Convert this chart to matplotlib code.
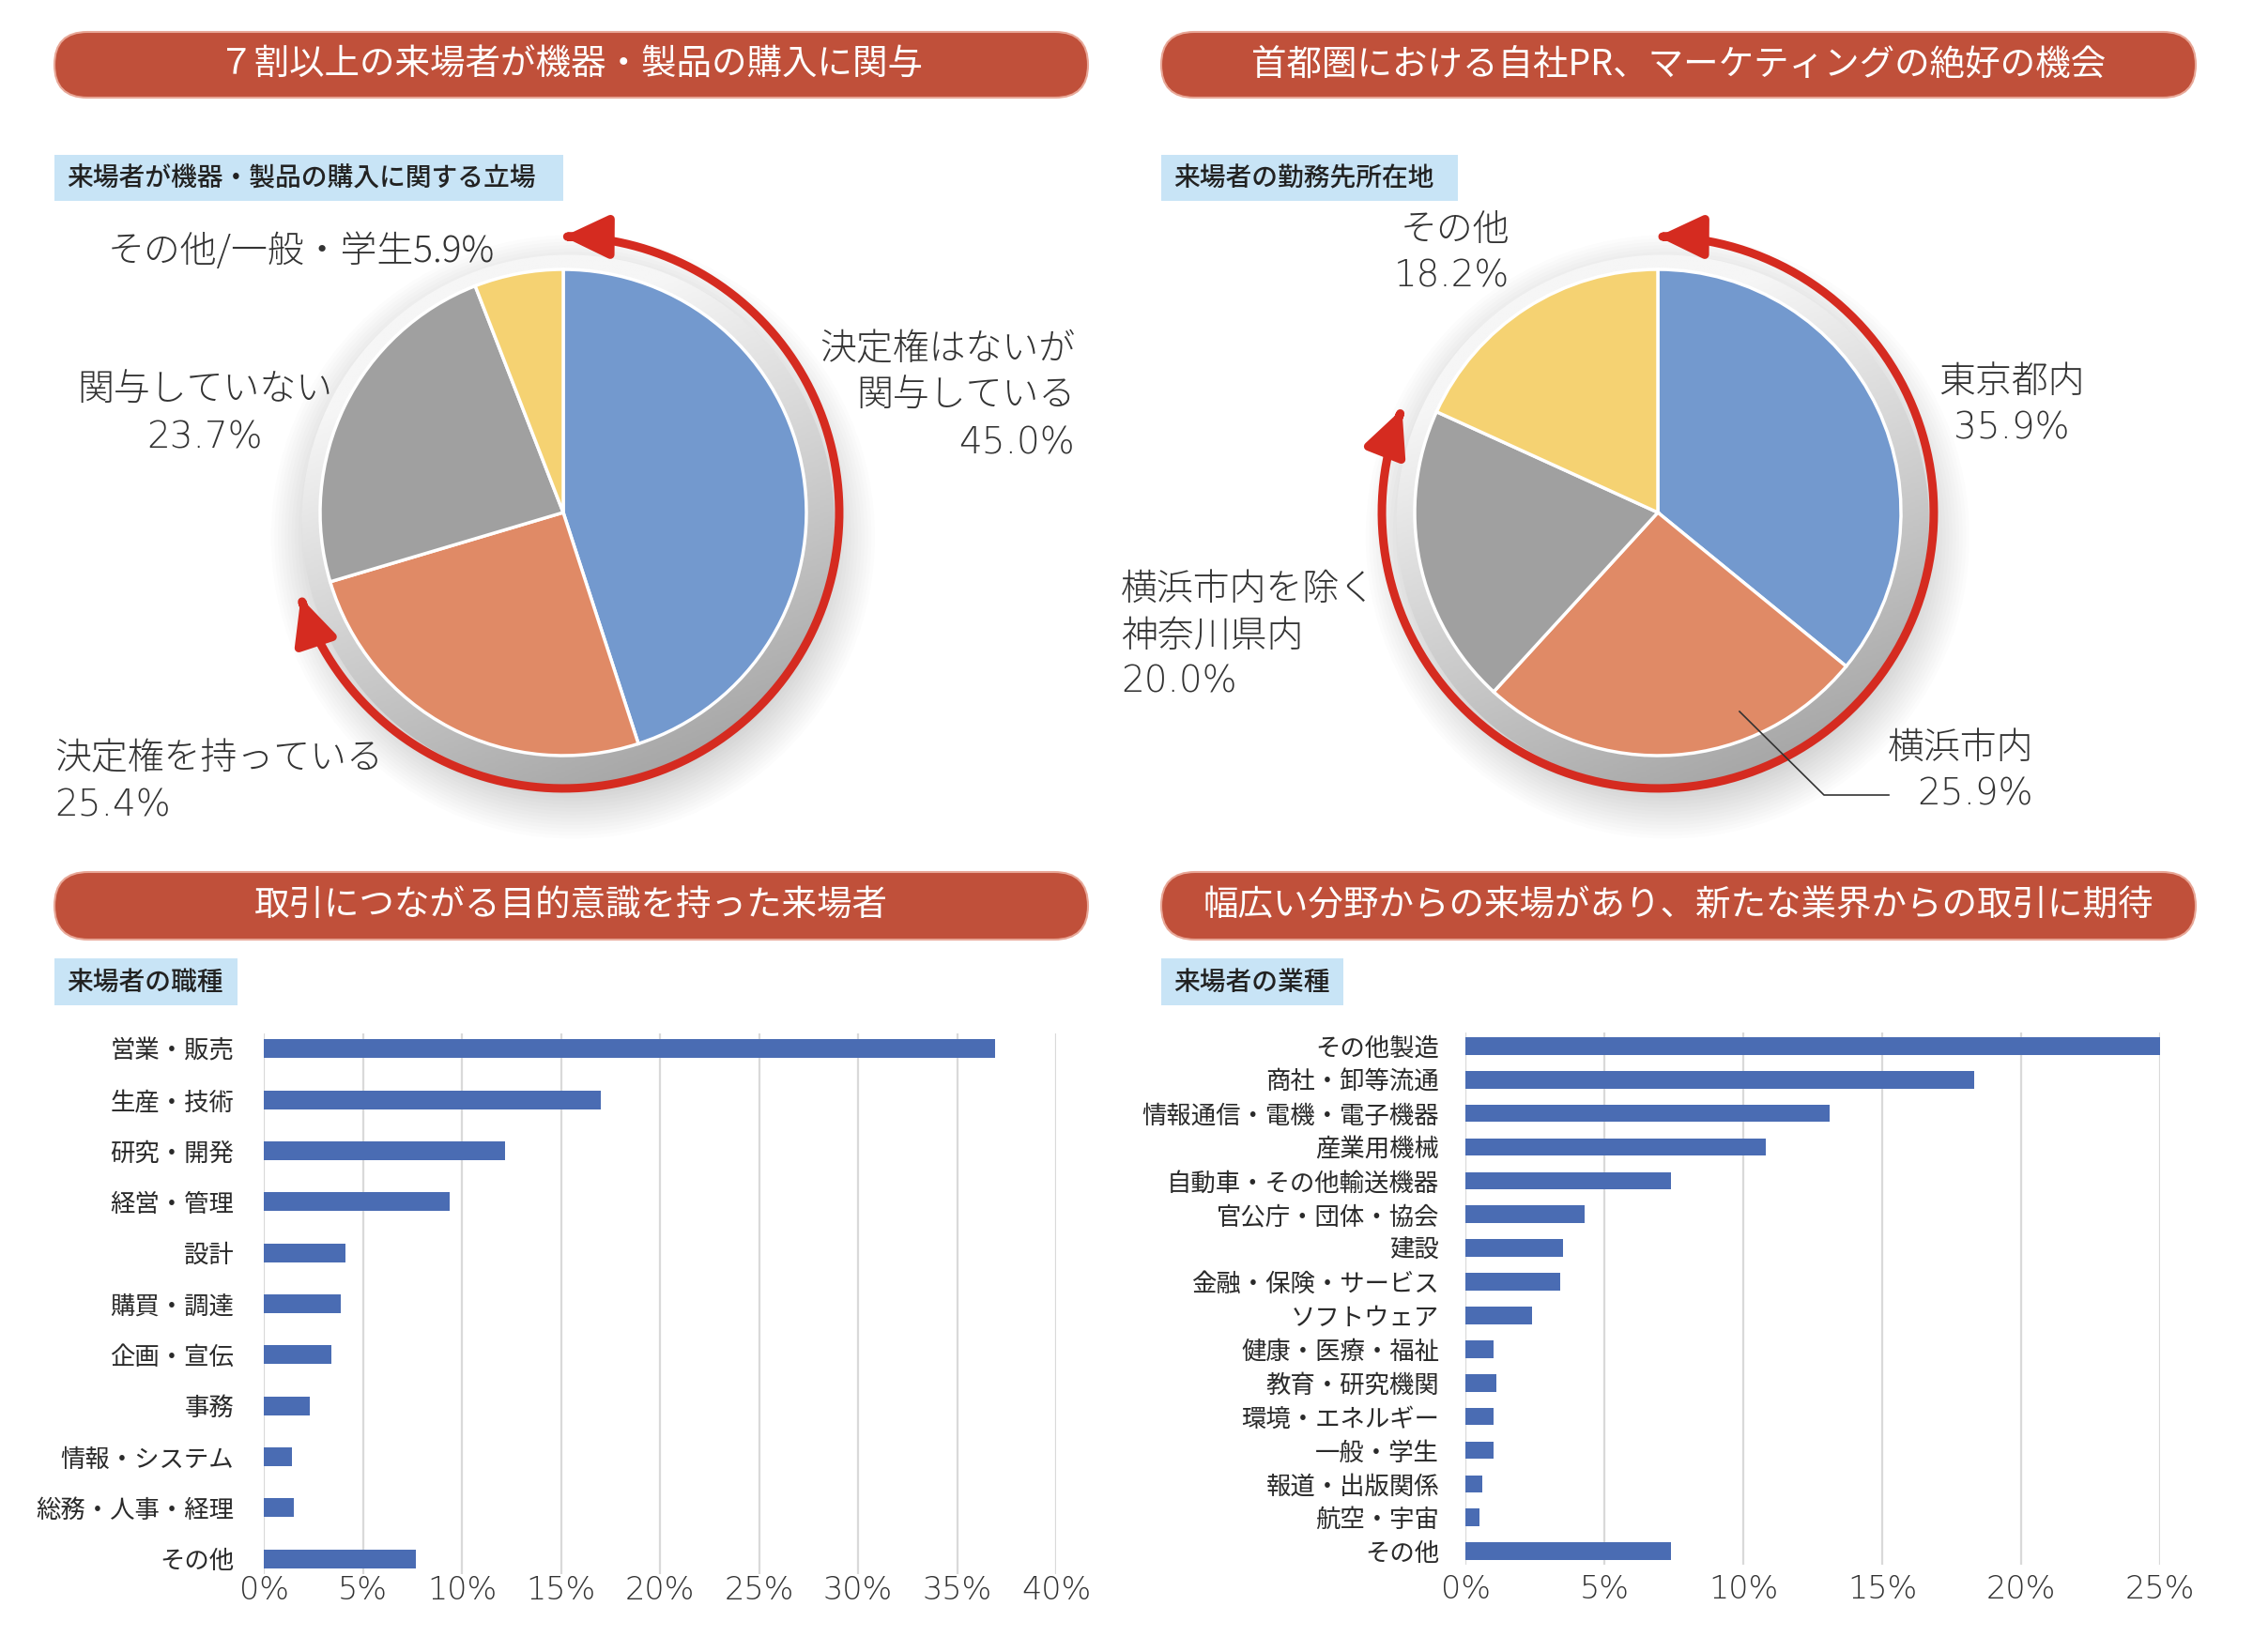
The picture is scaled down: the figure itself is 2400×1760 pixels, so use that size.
import numpy as np
import matplotlib
matplotlib.use("Agg")
import matplotlib.pyplot as plt
from matplotlib.patches import FancyBboxPatch, Rectangle, Circle, FancyArrowPatch
from matplotlib.path import Path
from matplotlib.colors import LinearSegmentedColormap

plt.rcParams['font.family'] = ['Noto Sans CJK JP', 'DejaVu Sans']

# ---------------- data ----------------
banner_titles = ['７割以上の来場者が機器・製品の購入に関与',
                 '首都圏における自社PR、マーケティングの絶好の機会',
                 '取引につながる目的意識を持った来場者',
                 '幅広い分野からの来場があり、新たな業界からの取引に期待']
sub_titles = ['来場者が機器・製品の購入に関する立場', '来場者の勤務先所在地',
              '来場者の職種', '来場者の業種']

role_labels = ['決定権はないが\n関与している', '決定権を持っている', '関与していない', 'その他/一般・学生']
role_values = [45.0, 25.4, 23.7, 5.9]

location_labels = ['東京都内', '横浜市内', '横浜市内を除く\n神奈川県内', 'その他']
location_values = [35.9, 25.9, 20.0, 18.2]

job_labels = ['営業・販売', '生産・技術', '研究・開発', '経営・管理', '設計', '購買・調達',
              '企画・宣伝', '事務', '情報・システム', '総務・人事・経理', 'その他']
job_values = [36.9, 17.0, 12.2, 9.4, 4.1, 3.9, 3.4, 2.3, 1.4, 1.5, 7.7]
job_ticks = [0, 5, 10, 15, 20, 25, 30, 35, 40]

industry_labels = ['その他製造', '商社・卸等流通', '情報通信・電機・電子機器', '産業用機械',
                   '自動車・その他輸送機器', '官公庁・団体・協会', '建設', '金融・保険・サービス',
                   'ソフトウェア', '健康・医療・福祉', '教育・研究機関', '環境・エネルギー',
                   '一般・学生', '報道・出版関係', '航空・宇宙', 'その他']
industry_values = [25.0, 18.3, 13.1, 10.8, 7.4, 4.3, 3.5, 3.4, 2.4, 1.0, 1.1, 1.0, 1.0, 0.6, 0.5, 7.4]
industry_ticks = [0, 5, 10, 15, 20, 25]

# ---------------- styles ----------------
W, H = 2400, 1760
pie_colors = ['#7399CE', '#E08A66', '#A0A0A0', '#F5D272']
bar_color = '#4A6CB3'
banner_color = '#C0503A'
sub_color = '#C8E4F6'
red = '#D52B20'
txt = '#333333'

fig = plt.figure(figsize=(W / 100, H / 100), dpi=100)
fig.patch.set_facecolor('white')

overlay = fig.add_axes([0, 0, 1, 1])
overlay.set_xlim(0, W)
overlay.set_ylim(H, 0)
overlay.axis('off')
overlay.set_zorder(10)
overlay.patch.set_alpha(0)

# banners
banner_boxes = [(58, 34, 1101, 70), (1237, 34, 1102, 70), (58, 929, 1101, 72), (1237, 929, 1102, 72)]
for (x0, y0, w, h), t in zip(banner_boxes, banner_titles):
    overlay.add_patch(FancyBboxPatch((x0, y0), w, h, boxstyle=f"round,pad=0,rounding_size={h/2}",
                                     fc=banner_color, ec='#E8A797', lw=1.5))
    overlay.text(x0 + w / 2, y0 + h / 2, t, ha='center', va='center', color='white', fontsize=27)

# subtitle boxes
sub_boxes = [(58, 165, 542, 49), (1237, 165, 316, 49), (58, 1021, 195, 50), (1237, 1021, 194, 50)]
for (x0, y0, w, h), t in zip(sub_boxes, sub_titles):
    overlay.add_patch(Rectangle((x0, y0), w, h, fc=sub_color, ec='none'))
    overlay.text(x0 + 13, y0 + h / 2, t, ha='left', va='center', color='#222222', fontsize=20,
                 fontweight='medium')


def pie_axes(cx, cy, r, k=1.4):
    ax = fig.add_axes([(cx - k * r) / W, (H - cy - k * r) / H, 2 * k * r / W, 2 * k * r / H])
    return ax, k


def draw_pie(cx, cy, r, values, end_angle):
    ax, k = pie_axes(cx, cy, r)
    # soft drop shadow
    for i in range(14):
        ax.add_patch(Circle((0.04, -0.10), 1.06 + 0.014 * i, fc='k', ec='none', alpha=0.013, zorder=0.5))
    # gray plate with gradient
    yy, xx = np.mgrid[1.2:-1.2:300j, -1.2:1.2:300j]
    g = np.clip(0.40 - 0.50 * yy + 0.2 * xx, 0, 1)
    cmap = LinearSegmentedColormap.from_list('plate', ['#F6F6F6', '#A8A8A8'])
    im = ax.imshow(g, extent=(-1.2, 1.2, -1.2, 1.2), cmap=cmap, vmin=0, vmax=1, zorder=1)
    plate = Circle((0.02, -0.035), 1.095, transform=ax.transData)
    im.set_clip_path(plate)
    ax.pie(values, colors=pie_colors, startangle=90, counterclock=False, radius=1.0,
           wedgeprops=dict(edgecolor='white', linewidth=2.5, zorder=2))
    R = 1.135
    th = np.radians(np.linspace(90, end_angle, 300))
    verts = np.column_stack([R * np.cos(th), R * np.sin(th)])
    arr = FancyArrowPatch(path=Path(verts), arrowstyle='<|-|>,head_length=1.3,head_width=0.62',
                          mutation_scale=22, color=red, lw=6.5, zorder=5)
    ax.add_patch(arr)
    ax.set_xlim(-k, k)
    ax.set_ylim(-k, k)
    ax.set_aspect('equal')
    ax.axis('off')
    return ax


draw_pie(600, 546, 259, role_values, -162)
draw_pie(1766, 546, 259, location_values, -202)

# pie labels
cjk_fs = 28
num_font = ['DejaVu Sans']
cjk = ['Noto Sans CJK JP', 'DejaVu Sans']


def put_label(x, ys, lines, ha, fams):
    for y, line, fam in zip(ys, lines, fams):
        overlay.text(x, y, line, ha=ha, va='center', color=txt, fontsize=cjk_fs,
                     family=fam, fontweight='light')


# role pie
overlay.text(321, 268, f"{role_labels[3]}{role_values[3]:.1f}%", ha='center', va='center',
             color=txt, fontsize=cjk_fs, fontweight='light')
put_label(1145, [372, 422, 473], role_labels[0].split('\n') + [f"{role_values[0]:.1f}%"], 'right',
          [cjk, cjk, num_font])
put_label(218, [416, 467], [role_labels[2], f"{role_values[2]:.1f}%"], 'center', [cjk, num_font])
put_label(58, [808, 859], [role_labels[1], f"{role_values[1]:.1f}%"], 'left', [cjk, num_font])

# location pie
put_label(1608, [245, 295], [location_labels[3], f"{location_values[3]:.1f}%"], 'right', [cjk, num_font])
put_label(2143, [407, 456], [location_labels[0], f"{location_values[0]:.1f}%"], 'center', [cjk, num_font])
put_label(1194, [628, 678, 727], location_labels[2].split('\n') + [f"{location_values[2]:.1f}%"], 'left',
          [cjk, cjk, num_font])
put_label(2166, [797, 847], [location_labels[1], f"{location_values[1]:.1f}%"], 'right', [cjk, num_font])
overlay.plot([1853, 1943, 2012], [758, 847, 847], color='#333333', lw=1.2)


def bar_chart(left_px, right_px, top_px, bottom_px, labels, values, ticks, height, pad_lab, pad_tick, m):
    ax = fig.add_axes([left_px / W, (H - bottom_px) / H, (right_px - left_px) / W, (bottom_px - top_px) / H])
    n = len(labels)
    y = np.arange(n)
    ax.barh(y, values, height=height, color=bar_color, zorder=3)
    ax.set_ylim(n - 1 + m, -m)
    ax.set_xlim(ticks[0], ticks[-1])
    ax.set_xticks(ticks, [f"{t}%" for t in ticks])
    ax.set_yticks(y, labels)
    ax.tick_params(axis='both', length=0, colors=txt)
    ax.tick_params(axis='y', pad=pad_lab, labelsize=19, labelcolor='#2A2A2A')
    ax.tick_params(axis='x', pad=pad_tick, labelsize=24)
    for lab in ax.get_xticklabels():
        lab.set_family(['DejaVu Sans'])
        lab.set_fontweight('light')
    ax.grid(axis='x', color='#D9D9D9', lw=1.6, zorder=0)
    ax.set_axisbelow(True)
    for s in ax.spines.values():
        s.set_visible(False)
    ax.patch.set_alpha(0)
    return ax


bar_chart(281, 1125, 1101, 1677, job_labels, job_values, job_ticks, 0.37, 23, 1, 0.3)
bar_chart(1561, 2301, 1100, 1667, industry_labels, industry_values, industry_ticks, 0.52, 20, 7, 0.4)

fig.savefig('out.png', dpi=100, facecolor='white')
